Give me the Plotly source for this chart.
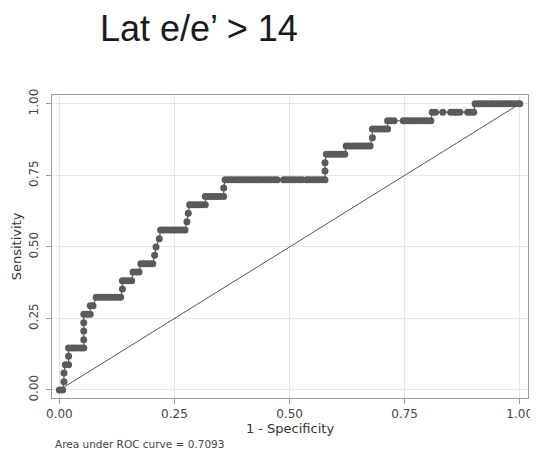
import plotly.graph_objects as go

# ROC curve points (1 - specificity, sensitivity)
fpr = [0.0, 0.007,
       0.01, 0.01, 0.013, 0.02, 0.02, 0.02,
       0.027, 0.033, 0.04, 0.047, 0.053,
       0.053, 0.053, 0.053, 0.053,
       0.06, 0.067,
       0.067, 0.073,
       0.08, 0.087, 0.093, 0.1, 0.107, 0.113, 0.12, 0.127, 0.133,
       0.137,
       0.137, 0.143, 0.15, 0.157,
       0.16, 0.167, 0.173,
       0.177, 0.183, 0.19, 0.197, 0.203,
       0.207, 0.21, 0.217,
       0.22, 0.227, 0.233, 0.24, 0.247, 0.253, 0.26, 0.267, 0.273,
       0.277, 0.28,
       0.283, 0.29, 0.297, 0.303, 0.31, 0.317,
       0.317, 0.323, 0.33, 0.337, 0.343, 0.35, 0.357,
       0.357,
       0.36, 0.367, 0.373, 0.38, 0.387, 0.393, 0.4, 0.407, 0.413, 0.42,
       0.427, 0.433, 0.44, 0.447, 0.453, 0.46, 0.467, 0.473,
       0.487, 0.493, 0.5, 0.507, 0.513, 0.52, 0.527,
       0.537, 0.543, 0.55, 0.557, 0.563, 0.57, 0.577,
       0.577, 0.577,
       0.58, 0.587, 0.593, 0.6, 0.607, 0.613, 0.62,
       0.623, 0.63, 0.637, 0.643, 0.65, 0.657, 0.663, 0.67, 0.675,
       0.68,
       0.68, 0.687, 0.693, 0.7, 0.707, 0.713,
       0.713, 0.72, 0.727,
       0.747, 0.753, 0.76, 0.767, 0.773, 0.78, 0.787, 0.793, 0.8, 0.807,
       0.81, 0.817,
       0.833,
       0.85, 0.857, 0.863, 0.87,
       0.887, 0.893, 0.9,
       0.903, 0.91, 0.917, 0.923, 0.93, 0.937, 0.943, 0.95, 0.957, 0.963,
       0.97, 0.977, 0.983, 0.99, 0.997, 1.0]

tpr = [0.0, 0.0,
       0.029, 0.059, 0.088, 0.088, 0.118, 0.147,
       0.147, 0.147, 0.147, 0.147, 0.147,
       0.176, 0.206, 0.235, 0.265,
       0.265, 0.265,
       0.294, 0.294,
       0.324, 0.324, 0.324, 0.324, 0.324, 0.324, 0.324, 0.324, 0.324,
       0.353,
       0.382, 0.382, 0.382, 0.382,
       0.412, 0.412, 0.412,
       0.441, 0.441, 0.441, 0.441, 0.441,
       0.471, 0.5, 0.529,
       0.559, 0.559, 0.559, 0.559, 0.559, 0.559, 0.559, 0.559, 0.559,
       0.588, 0.618,
       0.647, 0.647, 0.647, 0.647, 0.647, 0.647,
       0.676, 0.676, 0.676, 0.676, 0.676, 0.676, 0.676,
       0.706,
       0.735, 0.735, 0.735, 0.735, 0.735, 0.735, 0.735, 0.735, 0.735, 0.735,
       0.735, 0.735, 0.735, 0.735, 0.735, 0.735, 0.735, 0.735,
       0.735, 0.735, 0.735, 0.735, 0.735, 0.735, 0.735,
       0.735, 0.735, 0.735, 0.735, 0.735, 0.735, 0.735,
       0.765, 0.794,
       0.824, 0.824, 0.824, 0.824, 0.824, 0.824, 0.824,
       0.853, 0.853, 0.853, 0.853, 0.853, 0.853, 0.853, 0.853, 0.853,
       0.882,
       0.912, 0.912, 0.912, 0.912, 0.912, 0.912,
       0.941, 0.941, 0.941,
       0.941, 0.941, 0.941, 0.941, 0.941, 0.941, 0.941, 0.941, 0.941, 0.941,
       0.971, 0.971,
       0.971,
       0.971, 0.971, 0.971, 0.971,
       0.971, 0.971, 0.971,
       1.0, 1.0, 1.0, 1.0, 1.0, 1.0, 1.0, 1.0, 1.0, 1.0,
       1.0, 1.0, 1.0, 1.0, 1.0, 1.0]

ref_x = [0.0, 1.0]
ref_y = [0.0, 1.0]
tick_vals = [0.0, 0.25, 0.5, 0.75, 1.0]
tick_text = ["0.00", "0.25", "0.50", "0.75", "1.00"]
title_text = "Lat e/e\u2019 > 14"
auc_text = "Area under ROC curve = 0.7093"

fig = go.Figure()
fig.add_trace(go.Scatter(x=ref_x, y=ref_y, mode="lines",
                         line=dict(color="#555555", width=1), hoverinfo="skip"))
fig.add_trace(go.Scatter(x=fpr, y=tpr, mode="lines+markers",
                         line=dict(color="#5a5a5a", width=1.2),
                         marker=dict(color="#5a5a5a", size=7)))

axis_common = dict(
    tickvals=tick_vals, ticktext=tick_text,
    showgrid=True, gridcolor="#e6e6e6", gridwidth=1,
    zeroline=False, showline=True, linecolor="#9a9a9a", linewidth=1,
    mirror=True, ticks="outside", ticklen=5, tickcolor="#9a9a9a",
    tickfont=dict(family="DejaVu Sans", size=12, color="#444444"),
)

# the page body adds an 8px offset, so the figure is 8px smaller than the window
fig.update_layout(
    width=530, height=443,
    margin=dict(l=44, r=5, t=87, b=53),
    paper_bgcolor="white", plot_bgcolor="white",
    showlegend=False,
    xaxis=dict(range=[-0.016, 1.018],
               title=dict(text="1 - Specificity", standoff=0,
                          font=dict(family="DejaVu Sans", size=13, color="#333333")),
               **axis_common),
    yaxis=dict(range=[-0.028, 1.031], tickangle=-90, ticklabelstandoff=3,
               title=dict(text="Sensitivity", standoff=2,
                          font=dict(family="DejaVu Sans", size=13, color="#333333")),
               **axis_common),
    annotations=[
        dict(text=title_text, xref="paper", yref="paper", x=0.0956, y=1.221,
             xanchor="left", yanchor="middle", showarrow=False,
             font=dict(family="Liberation Sans", size=36, color="#1a1a1a")),
        dict(text=auc_text, xref="paper", yref="paper", x=0.002, y=-0.152,
             xanchor="left", yanchor="middle", showarrow=False,
             font=dict(family="DejaVu Sans", size=10.5, color="#444444")),
    ],
)

fig.write_html("out.html")
